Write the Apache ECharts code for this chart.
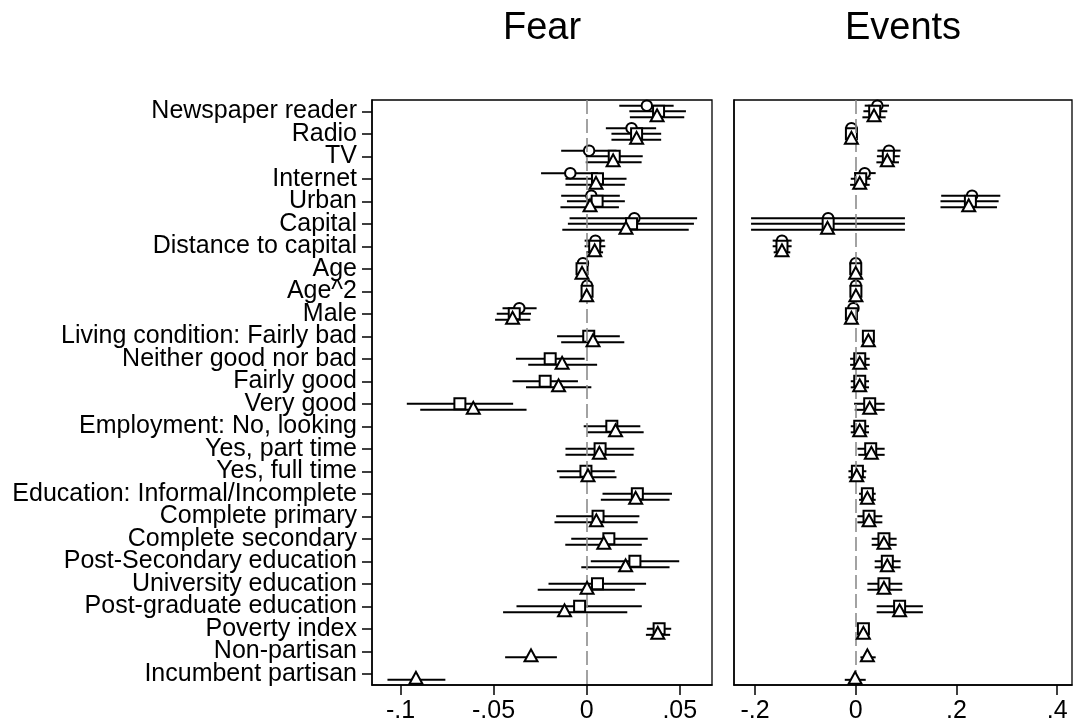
<!DOCTYPE html>
<html><head><meta charset="utf-8">
<script src="https://cdn.jsdelivr.net/npm/echarts@6/dist/echarts.min.js"></script>
<style>html,body{margin:0;padding:0;background:#fff}#c{width:1074px;height:727px}</style>
</head><body><div id="c"></div>
<script>
// ---------- DATA ----------
const labels = [
  'Newspaper reader','Radio','TV','Internet','Urban','Capital','Distance to capital',
  'Age','Age^2','Male','Living condition: Fairly bad','Neither good nor bad','Fairly good',
  'Very good','Employment: No, looking','Yes, part time','Yes, full time',
  'Education: Informal/Incomplete','Complete primary','Complete secondary',
  'Post-Secondary education','University education','Post-graduate education',
  'Poverty index','Non-partisan','Incumbent partisan'
];
const panelTitles = ['Fear', 'Events'];
const fearTicks = [-0.1, -0.05, 0, 0.05];
const eventsTicks = [-0.2, 0, 0.2, 0.4];

// each entry: [coefficient, lower CI, upper CI]; null = not in model
const fearCircle = [
  [0.0323,0.0175,0.0467],[0.0241,0.0103,0.0373],[0.0013,-0.0137,0.0160],[-0.0088,-0.0245,0.0061],
  [0.0025,-0.0137,0.0178],[0.0256,-0.0092,0.0593],[0.0047,-0.0011,0.0097],[-0.0020,-0.0025,-0.0015],
  [0.0002,0.0001,0.0003],[-0.0362,-0.0452,-0.0269],
  null,null,null,null,null,null,null,null,null,null,null,null,null,null,null,null
];
const fearSquare = [
  [0.0386,0.0229,0.0533],[0.0268,0.0133,0.0400],[0.0148,-0.0005,0.0301],[0.0058,-0.0114,0.0214],
  [0.0056,-0.0106,0.0205],[0.0241,-0.0101,0.0576],[0.0043,-0.0011,0.0100],[-0.0025,-0.0030,-0.0020],
  [0.0002,0.0001,0.0003],[-0.0389,-0.0483,-0.0299],[0.0011,-0.0159,0.0178],[-0.0196,-0.0380,-0.0011],
  [-0.0223,-0.0398,-0.0047],[-0.0681,-0.0966,-0.0395],[0.0135,-0.0016,0.0288],[0.0072,-0.0114,0.0256],
  [-0.0004,-0.0160,0.0151],[0.0272,0.0085,0.0458],[0.0061,-0.0164,0.0283],[0.0119,-0.0083,0.0328],
  [0.0259,0.0022,0.0497],[0.0058,-0.0205,0.0319],[-0.0038,-0.0377,0.0296],[0.0389,0.0323,0.0454],
  null,null
];
const fearTriangle = [
  [0.0378,0.0232,0.0524],[0.0268,0.0133,0.0400],[0.0142,-0.0005,0.0295],[0.0050,-0.0114,0.0205],
  [0.0018,-0.0141,0.0173],[0.0211,-0.0131,0.0548],[0.0043,-0.0002,0.0088],[-0.0025,-0.0030,-0.0020],
  [0.0000,-0.0001,0.0001],[-0.0398,-0.0492,-0.0303],[0.0034,-0.0137,0.0202],[-0.0132,-0.0314,0.0056],
  [-0.0151,-0.0326,0.0025],[-0.0609,-0.0894,-0.0323],[0.0155,0.0004,0.0306],[0.0068,-0.0114,0.0252],
  [0.0007,-0.0146,0.0160],[0.0263,0.0076,0.0445],[0.0052,-0.0173,0.0274],[0.0092,-0.0115,0.0296],
  [0.0209,-0.0029,0.0445],[0.0002,-0.0263,0.0259],[-0.0119,-0.0449,0.0218],[0.0382,0.0318,0.0448],
  [-0.0299,-0.0438,-0.0160],[-0.0917,-0.1070,-0.0759]
];
const eventsCircle = [
  [0.0429,0.0178,0.0660],[-0.0086,-0.0160,-0.0010],[0.0660,0.0430,0.0890],[0.0178,-0.0033,0.0396],
  [0.2310,0.1697,0.2871],[-0.0548,-0.2079,0.0977],[-0.1465,-0.1650,-0.1274],[0.0000,-0.0010,0.0010],
  [0.0003,0.0001,0.0005],[-0.0046,-0.0100,0.0008],
  null,null,null,null,null,null,null,null,null,null,null,null,null,null,null,null
];
const eventsSquare = [
  [0.0376,0.0152,0.0627],[-0.0086,-0.0160,-0.0010],[0.0647,0.0420,0.0875],[0.0099,-0.0099,0.0297],
  [0.2277,0.1683,0.2838],[-0.0548,-0.2079,0.0977],[-0.1465,-0.1650,-0.1274],[0.0000,-0.0010,0.0010],
  [0.0003,0.0001,0.0005],[-0.0086,-0.0140,-0.0030],[0.0251,0.0180,0.0320],[0.0079,-0.0112,0.0277],
  [0.0079,-0.0099,0.0264],[0.0277,-0.0033,0.0574],[0.0079,-0.0099,0.0264],[0.0297,0.0033,0.0574],
  [0.0033,-0.0145,0.0211],[0.0231,0.0066,0.0396],[0.0264,0.0033,0.0528],[0.0560,0.0317,0.0812],
  [0.0627,0.0376,0.0891],[0.0560,0.0231,0.0924],[0.0871,0.0416,0.1333],[0.0152,0.0040,0.0270],
  null,null
];
const eventsTriangle = [
  [0.0363,0.0132,0.0594],[-0.0086,-0.0160,-0.0010],[0.0627,0.0410,0.0858],[0.0079,-0.0112,0.0277],
  [0.2244,0.1683,0.2805],[-0.0561,-0.2079,0.0977],[-0.1465,-0.1630,-0.1300],[0.0000,-0.0010,0.0010],
  [0.0003,0.0001,0.0005],[-0.0086,-0.0140,-0.0030],[0.0251,0.0180,0.0320],[0.0079,-0.0112,0.0277],
  [0.0079,-0.0099,0.0264],[0.0277,-0.0020,0.0574],[0.0079,-0.0099,0.0264],[0.0310,0.0050,0.0574],
  [0.0020,-0.0145,0.0200],[0.0231,0.0066,0.0396],[0.0264,0.0033,0.0528],[0.0560,0.0317,0.0812],
  [0.0627,0.0376,0.0891],[0.0560,0.0231,0.0924],[0.0871,0.0416,0.1333],[0.0152,0.0040,0.0270],
  [0.0231,0.0092,0.0396],[-0.0013,-0.0218,0.0198]
];

// ---------- CHART ----------
const FONT = '"Liberation Sans", Arial, Helvetica, sans-serif';
const models = [
  { off: -0.25, symbol: 'circle', size: 10.5, shift: [0, 0] },
  { off: 0, symbol: 'rect', size: 11, shift: [0, 0] },
  { off: 0.27, symbol: 'triangle', size: [13, 12], shift: [0, -2] }
];
const panels = [
  { data: [fearCircle, fearSquare, fearTriangle], ticks: fearTicks, min: -0.1153, max: 0.0673 },
  { data: [eventsCircle, eventsSquare, eventsTriangle], ticks: eventsTicks, min: -0.2418, max: 0.4295 }
];
function fmt(v) {
  if (Math.abs(v) < 1e-12) return '0';
  return String(+v.toFixed(4)).replace(/^(-?)0\./, '$1.');
}

const grids = [
  { left: 372, top: 100, width: 340, height: 585 },
  { left: 734, top: 100, width: 338, height: 585 }
].map(g => Object.assign(g, { show: true, borderColor: '#000', borderWidth: 1.3, backgroundColor: '#fff' }));

const xAxes = panels.map((p, k) => ({
  type: 'value', gridIndex: k, min: p.min, max: p.max,
  axisLine: { show: true, onZero: false, lineStyle: { color: '#000', width: 1.5 } },
  axisTick: { show: true, customValues: p.ticks, length: 10, lineStyle: { color: '#000', width: 1.5 } },
  axisLabel: { show: true, customValues: p.ticks, formatter: fmt, fontSize: 25, fontFamily: FONT, color: '#000', margin: 14 },
  splitLine: { show: false }
}));

// per panel: a category axis carrying the row labels/ticks, and a hidden value axis for the marks
const yAxes = [];
panels.forEach((p, k) => {
  yAxes.push({
    type: 'category', gridIndex: k, inverse: true, data: labels, boundaryGap: true, position: 'left',
    axisLine: { show: true, onZero: false, lineStyle: { color: '#000', width: 1.5 } },
    axisTick: k === 0 ? { show: true, alignWithLabel: true, interval: 0, length: 10, lineStyle: { color: '#000', width: 1.5 } } : { show: false },
    axisLabel: k === 0 ? { show: true, interval: 0, fontSize: 25, fontFamily: FONT, color: '#000', margin: 15, hideOverlap: false } : { show: false },
    splitLine: { show: false }
  });
  yAxes.push({
    type: 'value', gridIndex: k, inverse: true, min: -0.5, max: labels.length - 0.5, position: 'right',
    axisLine: { show: false }, axisTick: { show: false }, axisLabel: { show: false }, splitLine: { show: false }
  });
});

const series = [];
panels.forEach((p, k) => {
  const yi = 2 * k + 1;
  series.push({
    type: 'line', xAxisIndex: k, yAxisIndex: yi, data: [], z: 1, silent: true,
    markLine: {
      silent: true, symbol: 'none', label: { show: false }, animation: false,
      lineStyle: { color: '#8c8c8c', type: [14, 5], width: 1.6 },
      data: [{ xAxis: 0 }]
    }
  });
  p.data.forEach((arr, m) => {
    const d = [];
    arr.forEach((r, i) => { if (r) d.push([r[1], r[2], i + models[m].off]); });
    series.push({
      type: 'custom', xAxisIndex: k, yAxisIndex: yi, silent: true, z: 2,
      encode: { x: [0, 1], y: 2 },
      data: d,
      renderItem: (params, api) => {
        const a = api.coord([api.value(0), api.value(2)]);
        const b = api.coord([api.value(1), api.value(2)]);
        return { type: 'line', shape: { x1: a[0], y1: a[1], x2: b[0], y2: b[1] }, style: { stroke: '#000', lineWidth: 2 } };
      }
    });
  });
  p.data.forEach((arr, m) => {
    const d = [];
    arr.forEach((r, i) => { if (r) d.push([r[0], i + models[m].off]); });
    series.push({
      type: 'scatter', xAxisIndex: k, yAxisIndex: yi, silent: true, z: 3 + m,
      symbol: models[m].symbol, symbolSize: models[m].size, symbolOffset: models[m].shift,
      itemStyle: { color: '#fff', borderColor: '#000', borderWidth: 2, opacity: 1 },
      data: d
    });
  });
});

const chart = echarts.init(document.getElementById('c'), null, { renderer: 'canvas' });
chart.setOption({
  animation: false,
  backgroundColor: '#fff',
  grid: grids,
  xAxis: xAxes,
  yAxis: yAxes,
  graphic: panelTitles.map((t, k) => ({
    type: 'text', x: k === 0 ? 542 : 903, y: 29, silent: true,
    style: { text: t, fontSize: 38, fontFamily: FONT, fill: '#000', align: 'center', verticalAlign: 'middle' }
  })),
  series: series
});
</script>
</body></html>
